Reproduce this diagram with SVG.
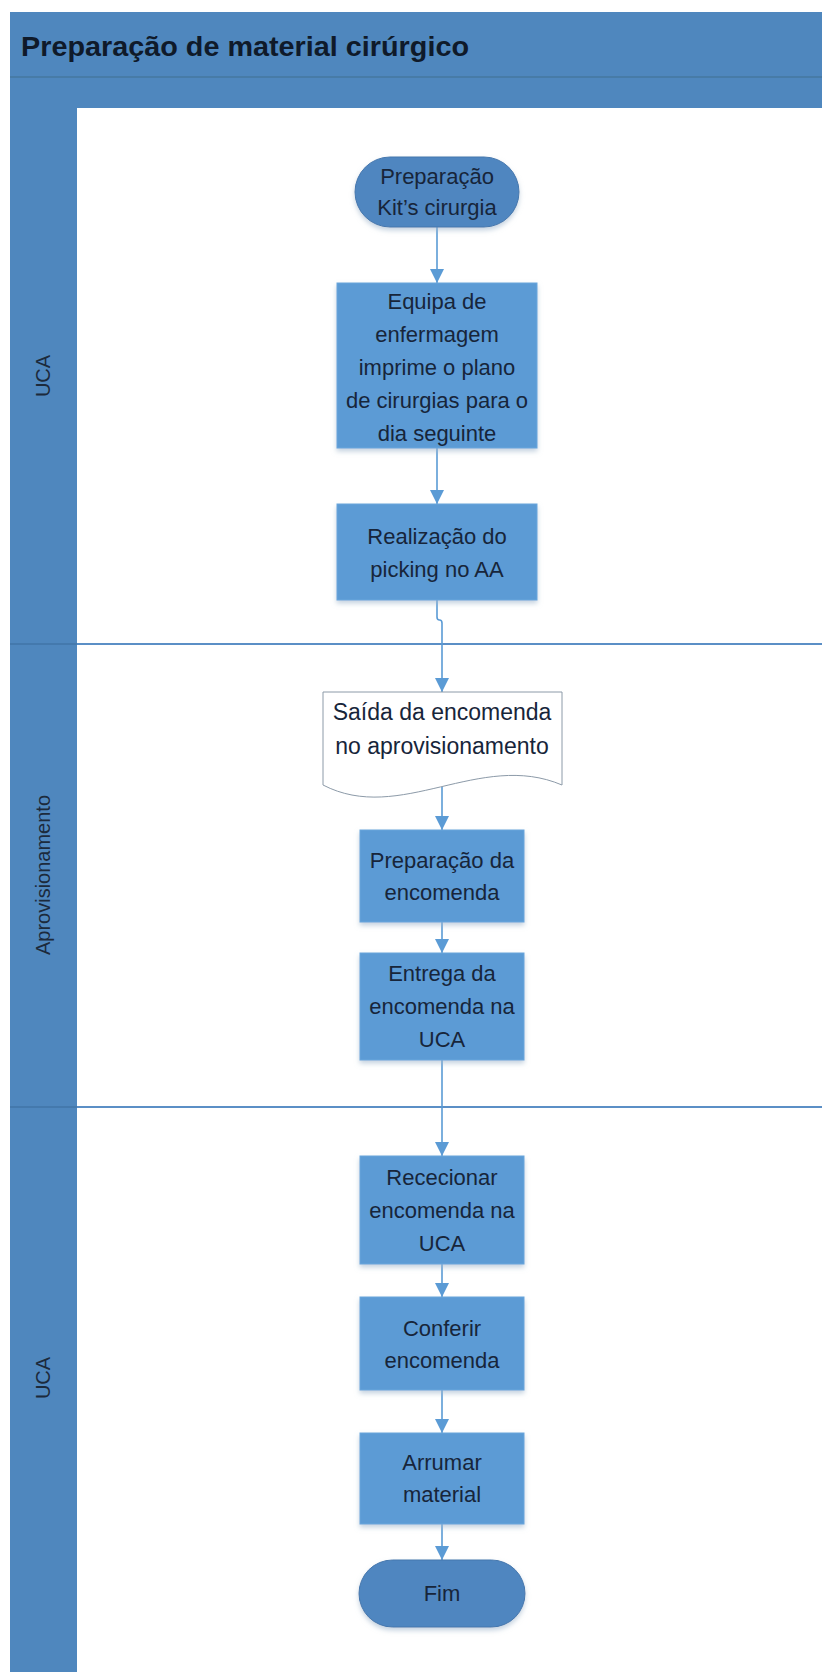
<svg xmlns="http://www.w3.org/2000/svg" width="822" height="1672" viewBox="0 0 822 1672">
<defs>
<style>
.hdr{fill:#4f87be}
.lanecol{fill:#4f87be}
.div{stroke:#5b8fc6;stroke-width:2;fill:none}
.box{fill:#5b9bd5;stroke:#6aa6dc;stroke-width:1}
.term{fill:#4f86c0;stroke:#4577ad;stroke-width:1}
.doc{fill:#ffffff;stroke:#8c9aa8;stroke-width:1}
.t{font-family:"Liberation Sans",Arial,sans-serif;font-size:22px;fill:#17253a;text-anchor:middle}
.lbl{font-family:"Liberation Sans",Arial,sans-serif;font-size:20px;fill:#1c2a3c;text-anchor:middle}
.title{font-family:"Liberation Sans",Arial,sans-serif;font-size:28px;font-weight:bold;fill:#0f1a2a}
.con{stroke:#5b9bd5;stroke-width:1.6;fill:none;marker-end:url(#arr)}
</style>
<marker id="arr" markerUnits="userSpaceOnUse" markerWidth="14" markerHeight="14" viewBox="0 0 14 14" refX="14" refY="7" orient="auto">
<path d="M0,0 L14,7 L0,14 Z" fill="#5b9bd5"/>
</marker>
<filter id="sh" x="-10%" y="-10%" width="120%" height="130%">
<feDropShadow dx="0" dy="3" stdDeviation="2.5" flood-color="#9fb6cc" flood-opacity="0.6"/>
</filter>
</defs>
<rect width="822" height="1672" fill="#ffffff"/>
<g id="pool">
<rect class="hdr" x="10" y="12" width="812" height="96"/>
<line x1="10" y1="77" x2="822" y2="77" stroke="#44779f" stroke-width="1.5"/>
<text class="title" x="21" y="56" textLength="448" lengthAdjust="spacingAndGlyphs">Preparação de material cirúrgico</text>
<rect class="lanecol" x="10" y="108" width="67" height="1564"/>
<line class="div" x1="77" y1="644" x2="822" y2="644"/>
<line class="div" x1="77" y1="1107" x2="822" y2="1107"/>
<line x1="10" y1="644" x2="77" y2="644" stroke="#4479ad" stroke-width="2"/>
<line x1="10" y1="1107" x2="77" y2="1107" stroke="#4479ad" stroke-width="2"/>
</g>
<g id="lane-uca-1"><text class="lbl" transform="translate(50,376) rotate(-90)">UCA</text></g>
<g id="lane-aprov"><text class="lbl" transform="translate(50,875) rotate(-90)">Aprovisionamento</text></g>
<g id="lane-uca-2"><text class="lbl" transform="translate(50,1378) rotate(-90)">UCA</text></g>
<g id="connectors">
<line class="con" x1="437" y1="227" x2="437" y2="283"/>
<line class="con" x1="437" y1="448" x2="437" y2="504"/>
<path class="con" d="M437,600 V617 Q437,620 439.5,620 Q442,620 442,623 V692"/>
<line class="con" x1="442" y1="787" x2="442" y2="830"/>
<line class="con" x1="442" y1="922" x2="442" y2="953"/>
<line class="con" x1="442" y1="1060" x2="442" y2="1156"/>
<line class="con" x1="442" y1="1264" x2="442" y2="1297"/>
<line class="con" x1="442" y1="1390" x2="442" y2="1433"/>
<line class="con" x1="442" y1="1524" x2="442" y2="1560"/>
</g>
<g id="n-start">
<rect class="term" x="355" y="157" width="164" height="70" rx="35" filter="url(#sh)"/>
<text class="t" x="437" y="184">Preparação</text>
<text class="t" x="437" y="215">Kit’s cirurgia</text>
</g>
<g id="n-equipa">
<rect class="box" x="337" y="283" width="200" height="165" filter="url(#sh)"/>
<text class="t" x="437" y="309">Equipa de</text>
<text class="t" x="437" y="342">enfermagem</text>
<text class="t" x="437" y="375">imprime o plano</text>
<text class="t" x="437" y="408">de cirurgias para o</text>
<text class="t" x="437" y="441">dia seguinte</text>
</g>
<g id="n-picking">
<rect class="box" x="337" y="504" width="200" height="96" filter="url(#sh)"/>
<text class="t" x="437" y="544">Realização do</text>
<text class="t" x="437" y="577">picking no AA</text>
</g>
<g id="n-saida">
<path class="doc" d="M323,692 H562 V785 C480,750 400,825 323,785 Z"/>
<text class="t" x="442" y="720" style="font-size:23px">Saída da encomenda</text>
<text class="t" x="442" y="754" style="font-size:23px">no aprovisionamento</text>
</g>
<g id="n-prep">
<rect class="box" x="360" y="830" width="164" height="92" filter="url(#sh)"/>
<text class="t" x="442" y="868">Preparação da</text>
<text class="t" x="442" y="900">encomenda</text>
</g>
<g id="n-entrega">
<rect class="box" x="360" y="953" width="164" height="107" filter="url(#sh)"/>
<text class="t" x="442" y="981">Entrega da</text>
<text class="t" x="442" y="1014">encomenda na</text>
<text class="t" x="442" y="1047">UCA</text>
</g>
<g id="n-rececionar">
<rect class="box" x="360" y="1156" width="164" height="108" filter="url(#sh)"/>
<text class="t" x="442" y="1185">Rececionar</text>
<text class="t" x="442" y="1218">encomenda na</text>
<text class="t" x="442" y="1251">UCA</text>
</g>
<g id="n-conferir">
<rect class="box" x="360" y="1297" width="164" height="93" filter="url(#sh)"/>
<text class="t" x="442" y="1336">Conferir</text>
<text class="t" x="442" y="1368">encomenda</text>
</g>
<g id="n-arrumar">
<rect class="box" x="360" y="1433" width="164" height="91" filter="url(#sh)"/>
<text class="t" x="442" y="1470">Arrumar</text>
<text class="t" x="442" y="1502">material</text>
</g>
<g id="n-fim">
<rect class="term" x="359" y="1560" width="166" height="67" rx="33.5" filter="url(#sh)"/>
<text class="t" x="442" y="1601">Fim</text>
</g>
</svg>
